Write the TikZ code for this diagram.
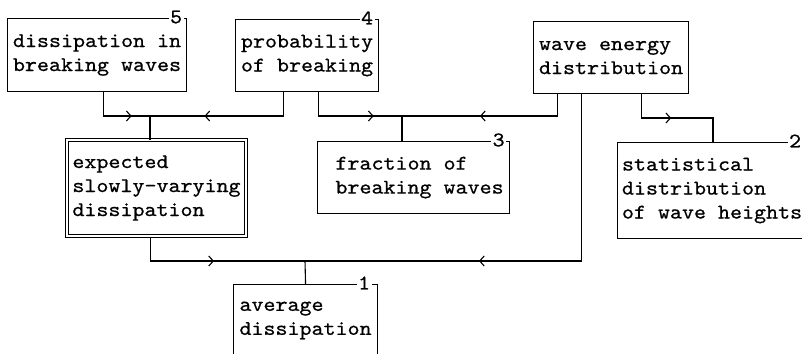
\documentclass[tikz,border=0pt]{standalone}
\usepackage{fontspec}
\newfontfamily\blkfont{lmmono10-regular.otf}[FakeStretch=1.1, FakeBold=0.7]
\usetikzlibrary{calc,arrows.meta,decorations.markings}

\tikzset{
	blk/.style 2 args={draw, line width=1.1pt, anchor=north west, align=left,
		inner sep=0pt, minimum width=#1, minimum height=#2,
		font=\blkfont\fontsize{20.8}{24}\selectfont},
	num/.style={fill=white, inner xsep=1.5pt, inner ysep=0pt,
		font=\blkfont\fontsize{20.8}{24}\selectfont},
	wire/.style={line width=1.1pt},
	arrowat/.style={wire, postaction={decorate}, decoration={markings,
		mark=at position #1 with {\arrow{Straight Barb[length=4.5pt,width=10pt,line width=1.1pt]}}}}
}

\begin{document}
\begin{tikzpicture}[x=1pt, y=-1pt]
	\useasboundingbox (0, 0) rectangle (802, 353);
	\clip (0, 0) rectangle (802, 353);
	% boxes
	\node[blk={179pt}{73pt}] (b5) at (7, 18) {dissipation in\\breaking waves};
	\node[blk={143pt}{72pt}] (b4) at (235, 19) {probability\\of breaking};
	\node[blk={155pt}{72pt}] (bw) at (533, 21) {wave energy\\distribution};
	\node[blk={192pt}{72pt}] (b3) at (317, 141) {\hspace*{12pt}fraction of\\\hspace*{12pt}breaking waves};
	\node[blk={189pt}{96pt}] (b2) at (617, 142) {statistical\\distribution\\of wave heights};
	\node[blk={179pt}{96pt}, double, line width=1pt, double distance=1.6pt] (bx) at (66.5, 139.5) {expected\\slowly-varying\\dissipation};
	\node[blk={144pt}{72pt}] (b1) at (233, 284) {average\\dissipation};
	% numbers
	\node[num] (n5) at ([xshift=-11pt, yshift=1pt]b5.north east) {5};
	\node[num] (n4) at ([xshift=-12pt, yshift=1pt]b4.north east) {4};
	\node[num] (n3) at ([xshift=-11.5pt, yshift=1pt]b3.north east) {3};
	\node[num] (n2) at ([xshift=-12pt, yshift=1pt]b2.north east) {2};
	\node[num] (n1) at ([xshift=-14pt, yshift=1pt]b1.north east) {1};
	% junctions
	\coordinate (j1) at (150, 116);
	\coordinate (j2) at (402, 116);
	\coordinate (j3) at (305, 261);
	\coordinate (k2) at (713, 118);
	% connectors
	\draw[arrowat=52pt] ($(b5.south)+(6.5,0)$) |- (j1);
	\draw[arrowat=103pt] ($(b4.south)+(-23.5,0)$) |- (j1);
	\draw[wire] (j1) -- (j1 |- bx.north);
	\draw[arrowat=79pt] ($(b4.south)+(11.5,0)$) |- (j2);
	\draw[arrowat=99pt] ($(bw.south)+(-54,0)$) |- (j2);
	\draw[wire] (j2) -- (j2 |- b3.north);
	\draw[arrowat=54pt] ($(bw.south)+(30,0)$) |- (k2) -- (k2 |- b2.north);
	\draw[arrowat=269pt] ($(bw.south)+(-30,0)$) |- (j3);
	\draw[arrowat=88pt] ($(bx.south)+(-6,0)$) |- (j3);
	\draw[wire] (j3) -- (b1.north);
\end{tikzpicture}
\end{document}
